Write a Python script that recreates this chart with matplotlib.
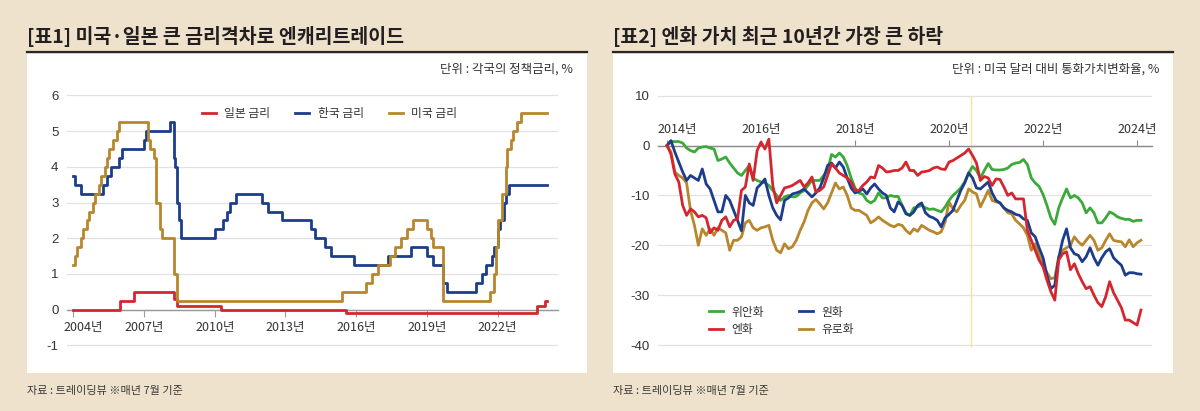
#Script for the two yen-carry charts (policy rates / currency value change)

import matplotlib.pyplot as plt
from matplotlib.lines import Line2D
from matplotlib.patches import Rectangle
from matplotlib.transforms import ScaledTranslation
import numpy as np

KR = ['Noto Sans CJK KR', 'DejaVu Sans']
NUM = ['Liberation Sans', 'Noto Sans CJK KR']
NARROW = ['Liberation Sans Narrow', 'Noto Sans CJK KR']

# ---- chart 1 : policy rates, change dates (YYYY-MM) and rate in force ----
jp_dates = ['2004-07', '2006-07', '2007-02', '2008-10', '2008-12', '2010-10',
            '2016-02', '2024-03', '2024-07', '2024-08']
jp_rates = [0.0, 0.25, 0.5, 0.3, 0.1, 0.0, -0.1, 0.1, 0.25, 0.25]

kr_dates = ['2004-07', '2004-08', '2004-11', '2005-10', '2005-12', '2006-02', '2006-06',
            '2006-08', '2007-07', '2007-08', '2008-08', '2008-10', '2008-11', '2008-12',
            '2009-01', '2009-02', '2010-07', '2010-11', '2011-01', '2011-03', '2011-06',
            '2012-07', '2012-10', '2013-05', '2014-08', '2014-10', '2015-03', '2015-06',
            '2016-06', '2017-11', '2018-11', '2019-07', '2019-10', '2020-03', '2020-05',
            '2021-08', '2021-11', '2022-01', '2022-04', '2022-05', '2022-07', '2022-08',
            '2022-10', '2022-11', '2023-01', '2024-08']
kr_rates = [3.75, 3.5, 3.25, 3.5, 3.75, 4.0, 4.25,
            4.5, 4.75, 5.0, 5.25, 4.25, 4.0, 3.0,
            2.5, 2.0, 2.25, 2.5, 2.75, 3.0, 3.25,
            3.0, 2.75, 2.5, 2.25, 2.0, 1.75, 1.5,
            1.25, 1.5, 1.75, 1.5, 1.25, 0.75, 0.5,
            0.75, 1.0, 1.25, 1.5, 1.75, 2.25, 2.5,
            3.0, 3.25, 3.5, 3.5]

us_dates = ['2004-07', '2004-08', '2004-09', '2004-11', '2004-12', '2005-02', '2005-03',
            '2005-05', '2005-06', '2005-08', '2005-09', '2005-11', '2005-12', '2006-01',
            '2006-03', '2006-05', '2006-06', '2007-09', '2007-10', '2007-12', '2008-01',
            '2008-03', '2008-04', '2008-10', '2008-12', '2015-12', '2016-12', '2017-03',
            '2017-06', '2017-12', '2018-03', '2018-06', '2018-09', '2018-12', '2019-07',
            '2019-09', '2019-10', '2020-03', '2022-03', '2022-05', '2022-06', '2022-07',
            '2022-09', '2022-11', '2022-12', '2023-02', '2023-03', '2023-05', '2023-07',
            '2024-08']
us_rates = [1.25, 1.5, 1.75, 2.0, 2.25, 2.5, 2.75,
            3.0, 3.25, 3.5, 3.75, 4.0, 4.25, 4.5,
            4.75, 5.0, 5.25, 4.75, 4.5, 4.25, 3.0,
            2.25, 2.0, 1.0, 0.25, 0.5, 0.75, 1.0,
            1.25, 1.5, 1.75, 2.0, 2.25, 2.5, 2.25,
            2.0, 1.75, 0.25, 0.5, 1.0, 1.75, 2.5,
            3.25, 4.0, 4.5, 4.75, 5.0, 5.25, 5.5,
            5.5]

rate_tick_years = [2004, 2007, 2010, 2013, 2016, 2019, 2022]
rate_yticks = [-1, 0, 1, 2, 3, 4, 5, 6]

# ---- chart 2 : monthly change vs USD (%), from 2014-07 ----
start_month = '2014-07'
cny = [0, 0.8, 0.8, 0.8, 0.5, -0.5, -1.0, -1.3, -0.5, -0.3,
       -0.2, -0.5, -0.7, -3.0, -2.7, -2.3, -3.5, -4.5, -5.5, -6.0,
       -5.0, -4.0, -6.5, -7.0, -7.3, -7.5, -8.0, -9.0, -10.0, -11.0,
       -10.3, -10.0, -10.3, -10.2, -9.5, -9.0, -8.0, -7.0, -7.0, -7.0,
       -6.0, -5.0, -1.8, -2.3, -1.5, -2.3, -4.0, -6.5, -8.5, -9.5,
       -9.8, -11.0, -11.5, -11.0, -9.5, -10.5, -10.5, -10.0, -10.2, -10.2,
       -12.0, -13.5, -14.0, -12.5, -12.3, -12.0, -12.5, -12.8, -12.7, -13.0,
       -13.3, -12.3, -11.0, -10.0, -9.3, -8.5, -7.3, -5.5, -4.2, -5.0,
       -6.5, -5.0, -3.6, -4.8, -4.9, -4.9, -4.8, -4.5, -3.8, -3.5,
       -3.4, -2.8, -3.8, -6.5, -7.5, -8.2, -9.8, -12.0, -14.5, -15.8,
       -12.5, -10.5, -8.7, -10.5, -10.0, -10.5, -11.5, -13.5, -12.5, -13.5,
       -15.5, -15.5, -14.5, -13.3, -13.7, -14.3, -14.6, -14.8, -14.8, -15.2,
       -15.0, -15.0]
krw = [0, 1.0, -1.3, -3.3, -5.3, -7.0, -6.0, -6.5, -7.0, -4.7,
       -7.7, -8.7, -11.0, -13.3, -13.3, -10.0, -11.0, -13.0, -15.0, -17.1,
       -10.0, -11.5, -12.0, -8.5, -7.7, -6.7, -10.0, -12.5, -14.0, -14.9,
       -11.0, -10.5, -9.7, -9.5, -9.2, -8.7, -9.5, -10.3, -9.5, -8.5,
       -6.5, -4.0, -3.5, -4.5, -3.3, -4.3, -6.5, -8.5, -9.5, -9.2,
       -8.7, -9.7, -8.5, -7.7, -8.7, -9.5, -10.0, -12.5, -13.3, -11.3,
       -12.0, -13.7, -14.0, -13.3, -12.0, -11.5, -13.5, -14.2, -14.5, -15.0,
       -16.3, -14.5, -13.8, -13.0, -11.0, -9.0, -7.5, -5.5, -6.5, -8.5,
       -8.7, -8.0, -7.3, -9.5, -11.0, -11.5, -12.5, -13.0, -13.3, -13.8,
       -14.0, -14.7, -15.0, -17.5, -18.3, -20.5, -22.5, -26.0, -28.7, -28.0,
       -22.5, -19.0, -16.7, -20.5, -21.7, -22.0, -23.3, -22.3, -20.5, -22.5,
       -24.0, -22.5, -21.3, -20.7, -22.5, -23.3, -24.0, -26.0, -25.5, -25.5,
       -25.7, -25.8]
jpy = [0, -1.7, -5.7, -7.3, -12.0, -14.0, -12.7, -13.3, -14.3, -14.0,
       -14.5, -17.5, -16.5, -17.0, -15.0, -14.3, -16.3, -15.0, -14.7, -9.0,
       -8.3, -3.7, -7.0, -1.0, 0.7, -0.7, 1.3, -8.0, -11.5, -10.0,
       -8.5, -8.3, -8.0, -7.5, -7.0, -8.3, -7.5, -6.3, -9.3, -9.0,
       -8.3, -6.0, -3.7, -4.5, -5.5, -6.0, -6.5, -7.3, -9.0, -9.0,
       -8.0, -7.3, -6.3, -6.5, -4.0, -4.5, -5.3, -5.2, -5.0, -5.0,
       -4.5, -3.3, -5.0, -5.0, -6.0, -5.3, -5.2, -5.0, -4.5, -4.3,
       -4.7, -4.8, -3.3, -3.0, -2.5, -2.0, -1.5, -0.7, -2.0, -3.5,
       -7.0, -6.2, -6.5, -8.0, -6.7, -6.8, -8.3, -10.0, -9.5, -10.7,
       -10.7, -10.7, -17.0, -19.0, -21.0, -23.0, -24.3, -27.0, -29.3, -31.0,
       -23.0, -21.7, -21.3, -24.9, -23.7, -25.7, -27.3, -28.7, -28.3, -30.0,
       -31.5, -32.3, -30.3, -27.3, -29.5, -31.0, -32.5, -35.0, -35.0, -35.5,
       -36.0, -33.0]
eur = [0, -1.3, -5.3, -6.0, -6.5, -7.5, -13.0, -16.0, -20.0, -16.7,
       -18.0, -16.7, -18.0, -16.5, -17.0, -17.5, -21.0, -19.0, -19.0, -18.3,
       -15.5, -15.0, -16.5, -17.0, -16.5, -16.3, -16.0, -19.0, -21.0, -21.5,
       -19.7, -20.7, -20.3, -19.0, -17.0, -15.3, -13.0, -11.5, -10.8, -11.7,
       -12.7, -11.5, -9.5, -7.5, -8.7, -8.3, -10.0, -12.5, -13.0, -13.0,
       -13.5, -14.0, -15.5, -15.0, -14.3, -15.0, -15.5, -16.0, -16.3, -15.8,
       -16.0, -17.0, -17.7, -16.7, -17.2, -16.0, -16.5, -17.0, -17.3, -17.7,
       -17.3, -15.3, -11.3, -12.7, -13.3, -12.0, -11.0, -8.7, -9.3, -9.7,
       -12.3, -10.7, -9.0, -11.0, -11.3, -11.5, -12.5, -13.5, -13.7, -15.0,
       -15.7, -16.5, -18.0, -21.0, -19.7, -22.0, -24.0, -25.5, -26.7, -26.5,
       -22.3, -21.0, -20.5, -20.0, -18.3, -19.3, -20.0, -19.0, -18.0, -19.0,
       -21.0, -20.5, -19.0, -17.7, -19.0, -19.2, -19.3, -20.3, -18.9, -20.3,
       -19.5, -19.0]

fx_tick_years = [2014, 2016, 2018, 2020, 2022, 2024]
fx_yticks = [-40, -30, -20, -10, 0, 10]
marker_year = 2020.96   # pale vertical guide line


def to_year(s):
    y, m = s.split('-')
    return int(y) + (int(m) - 1) / 12


W, H = 1200, 411
def fx(x):
    return x / W
def fy(y):
    return 1 - y / H


fig = plt.figure(figsize=(12, 4.11), dpi=100, facecolor='#EEE2CC')

# panels, underlines, titles, notes
for x0, x1 in [(26.7, 586.7), (612.7, 1173.3)]:
    fig.add_artist(Rectangle((fx(x0), fy(373)), fx(x1) - fx(x0), (373 - 54) / H,
                             transform=fig.transFigure, facecolor='white',
                             edgecolor='none', zorder=-1))
    fig.add_artist(Line2D([fx(x0), fx(x1)], [fy(52.3), fy(52.3)],
                          transform=fig.transFigure, color='#2b2523', lw=1.6))
    fig.text(fx(x0), fy(391), '자료 : 트레이딩뷰 ※매년 7월 기준', fontsize=8,
             family=KR, color='#3a3a3a', va='center', ha='left')

fig.text(fx(26.7), fy(43), '[표1] 미국·일본 큰 금리격차로 엔캐리트레이드', fontsize=14,
         fontweight='black', family=KR, color='#231f20', va='baseline')
fig.text(fx(612.7), fy(43), '[표2] 엔화 가치 최근 10년간 가장 큰 하락', fontsize=14,
         fontweight='black', family=KR, color='#231f20', va='baseline')
fig.text(fx(572.7), fy(69.3), '단위 : 각국의 정책금리, %', fontsize=9, family=KR,
         color='#333333', ha='right', va='center')
fig.text(fx(1159), fy(69.3), '단위 : 미국 달러 대비 통화가치변화율, %', fontsize=9,
         family=KR, color='#333333', ha='right', va='center')

RED = '#D52630'
BLUE = '#1C3D8C'
GOLD = '#B8862C'
GREEN = '#3BAA3A'
shift = ScaledTranslation(0.1, 0, fig.dpi_scale_trans)

# ---------------- chart 1 ----------------
ax1 = fig.add_axes([0.0556, 0.1509, 0.4094, 0.6255])
ax1.set_facecolor('none')
for s in ['top', 'right', 'left']:
    ax1.spines[s].set_visible(False)
ax1.spines['bottom'].set_position(('data', 0))
ax1.spines['bottom'].set_color('#9a9a9a')
ax1.spines['bottom'].set_linewidth(1)

ax1.plot([to_year(d) for d in jp_dates], jp_rates, drawstyle='steps-post',
         color=RED, lw=2.0, label='일본 금리', zorder=3)
ax1.plot([to_year(d) for d in kr_dates], kr_rates, drawstyle='steps-post',
         color=BLUE, lw=2.0, label='한국 금리', zorder=3)
ax1.plot([to_year(d) for d in us_dates], us_rates, drawstyle='steps-post',
         color=GOLD, lw=2.0, label='미국 금리', zorder=3)

ax1.set_xlim(2004.22, 2025.06)
ax1.set_ylim(-1.1, 6.1)
ax1.set_yticks(rate_yticks)
ax1.set_yticklabels([str(v) for v in rate_yticks])
ax1.set_xticks([y + 0.5 for y in rate_tick_years])
ax1.set_xticklabels([f'{y}년' for y in rate_tick_years])
ax1.grid(axis='y', color='#e2e2e2', lw=0.9)
ax1.set_axisbelow(True)
ax1.tick_params(axis='y', length=0, pad=6, labelsize=9.5, labelcolor='#333333')
ax1.tick_params(axis='x', direction='out', length=5, color='#9a9a9a', pad=3,
                labelsize=9, labelcolor='#333333')
for lbl in ax1.get_yticklabels():
    lbl.set_fontfamily(NUM)
for lbl in ax1.get_xticklabels():
    lbl.set_fontfamily(NARROW)
first = ax1.get_xticklabels()[0]
first.set_transform(first.get_transform() + shift)

ax1.legend(loc='center', bbox_to_anchor=(fx(329.5), fy(113.4)),
           bbox_transform=fig.transFigure, ncol=3, frameon=False,
           prop={'family': KR, 'size': 8.5}, labelcolor='#333333',
           handlelength=1.2, handletextpad=0.7, columnspacing=2.1)

# ---------------- chart 2 ----------------
ax2 = fig.add_axes([0.5486, 0.1484, 0.4112, 0.6309])
ax2.set_facecolor('none')
for s in ['bottom', 'right', 'left']:
    ax2.spines[s].set_visible(False)
ax2.spines['top'].set_position(('data', 0))
ax2.spines['top'].set_color('#8a8a8a')
ax2.spines['top'].set_linewidth(1)
ax2.xaxis.set_ticks_position('top')

y0 = int(start_month[:4]) + (int(start_month[5:]) - 1) / 12
yrs = y0 + np.arange(len(cny)) / 12

ax2.vlines(marker_year, -40.3, 10, color='#F2E3A0', lw=1.0, zorder=1)
ax2.plot(yrs, eur, color=GOLD, lw=2.0, label='유로화', zorder=3)
ax2.plot(yrs, cny, color=GREEN, lw=2.0, label='위안화', zorder=4)
ax2.plot(yrs, krw, color=BLUE, lw=2.0, label='원화', zorder=5)
ax2.plot(yrs, jpy, color=RED, lw=2.0, label='엔화', zorder=6)

ax2.set_xlim(2014.315, 2024.813)
ax2.set_ylim(-41, 11)
ax2.set_yticks(fx_yticks)
ax2.set_yticklabels([str(v) for v in fx_yticks])
ax2.set_xticks([y + 0.5 for y in fx_tick_years])
ax2.set_xticklabels([f'{y}년' for y in fx_tick_years])
ax2.grid(axis='y', color='#e2e2e2', lw=0.9)
ax2.set_axisbelow(True)
ax2.tick_params(axis='y', length=0, pad=6, labelsize=9.5, labelcolor='#333333')
ax2.tick_params(axis='x', direction='out', length=4, color='#8a8a8a', pad=3,
                labelsize=9, labelcolor='#333333')
for lbl in ax2.get_yticklabels():
    lbl.set_fontfamily(NUM)
for lbl in ax2.get_xticklabels():
    lbl.set_fontfamily(NARROW)
first = ax2.get_xticklabels()[0]
first.set_transform(first.get_transform() + shift)

h, l = ax2.get_legend_handles_labels()
order = [l.index(n) for n in ['위안화', '엔화', '원화', '유로화']]
ax2.legend([h[i] for i in order], [l[i] for i in order], loc='center',
           bbox_to_anchor=(fx(781.5), fy(320.9)), bbox_transform=fig.transFigure,
           ncol=2, frameon=False, prop={'family': KR, 'size': 8.5},
           labelcolor='#333333', handlelength=1.2, handletextpad=0.7,
           columnspacing=3.0, labelspacing=0.4)

plt.savefig('out.png', dpi=100, facecolor=fig.get_facecolor())
